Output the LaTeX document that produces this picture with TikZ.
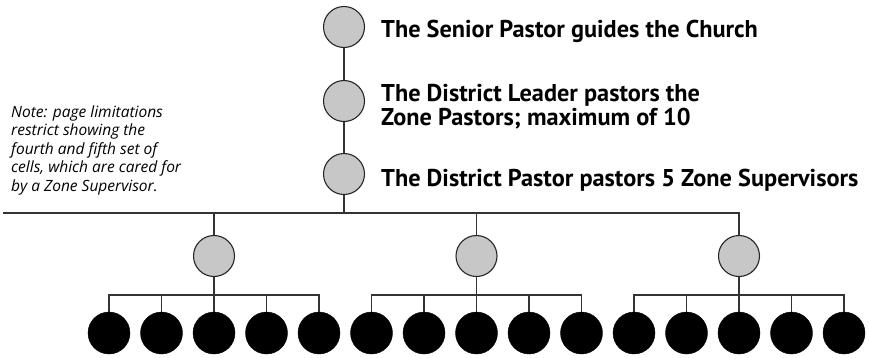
\documentclass[tikz,border=0pt]{standalone}
\usepackage{fontspec}
\setmainfont{PT Sans}
\newfontfamily\headfont{PT Sans}
\newfontfamily\notefont{Open Sans}
\begin{document}
\begin{tikzpicture}[x=1pt,y=-1pt,
  wire/.style={draw=black!80, line width=1.3pt},
  leader/.style={circle, draw=black!85, line width=1.1pt, fill=black!22, minimum size=41pt, inner sep=0pt},
  cell/.style={circle, draw=black, fill=black, minimum size=42pt, inner sep=0pt},
  caption/.style={anchor=base west, inner sep=0pt, font=\headfont\bfseries\fontsize{24.3}{24}\selectfont, align=left},
  notetext/.style={anchor=base west, inner sep=0pt, font=\notefont\itshape\fontsize{15.5}{18.5}\selectfont, align=left}]
\useasboundingbox (0,0) rectangle (869,357);

% chain of leaders at the top
\node[leader] (senior) at (344,27) {};
\node[leader] (leader) at (344,101) {};
\node[leader] (district) at (344,174) {};

\node[caption] (t1) at (381,37) {The Senior Pastor guides the Church};
\node[caption] (t2) at (381,125) {The District Leader pastors the\\Zone Pastors; maximum of 10};
\node[caption] (t3) at (381,186) {The District Pastor pastors 5 Zone Supervisors};

\node[notetext] (note) at (11,191) {Note: page limitations\\restrict showing the\\fourth and fifth set of\\cells, which are cared for\\by a Zone Supervisor.};

% zone supervisors
\node[leader] (z1) at (214,256) {};
\node[leader] (z2) at (476.5,256) {};
\node[leader] (z3) at (739,256) {};

% cells, five per supervisor
\foreach \g in {1,2,3}{
  \foreach \i in {1,...,5}{
    \pgfmathsetmacro{\cx}{109+52.5*((\g-1)*5+\i-1)}
    \node[cell] (c\g-\i) at (\cx,333) {};
  }
}

\coordinate (lend) at (3,213);
\coordinate (bus) at (0,295);

\draw[wire] (senior) -- (leader);
\draw[wire] (leader) -- (district);
\draw[wire] (district) -- (district |- lend);
\draw[wire] (lend) -| (z3);
\draw[wire] (z1) -- (z1 |- lend);
\draw[wire] (z2) -- (z2 |- lend);

\foreach \g in {1,2,3}{
  \draw[wire] (z\g) -- (c\g-3);
  \draw[wire] (c\g-1) -- (c\g-1 |- bus) -- (c\g-5 |- bus) -- (c\g-5);
  \draw[wire] (c\g-2) -- (c\g-2 |- bus);
  \draw[wire] (c\g-4) -- (c\g-4 |- bus);
}
\end{tikzpicture}
\end{document}
